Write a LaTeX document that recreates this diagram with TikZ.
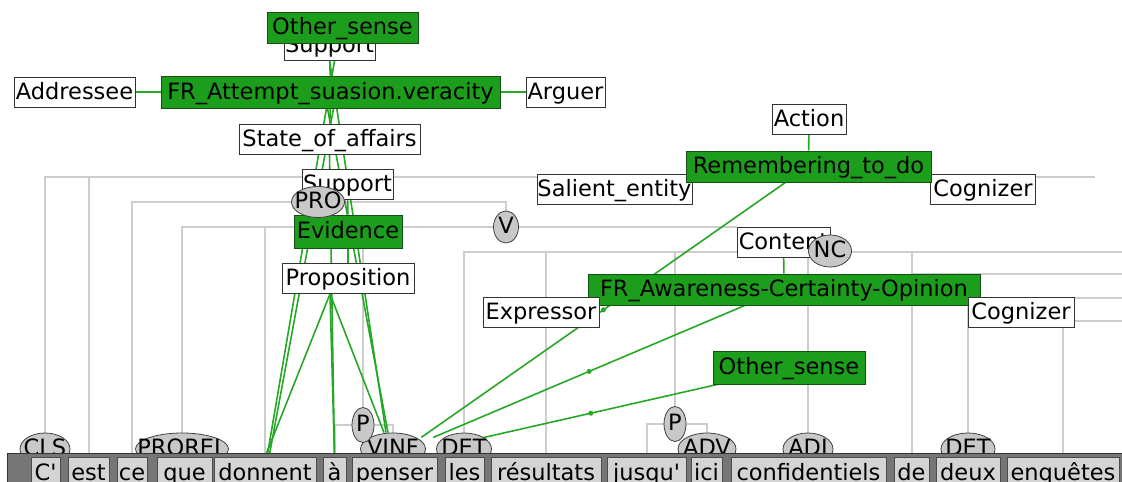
\documentclass[tikz,border=0pt]{standalone}
\usepackage{fontspec}
\setmainfont{DejaVu Sans}
\usetikzlibrary{shapes.geometric}
\definecolor{frgreen}{RGB}{28,158,28}
\definecolor{frline}{RGB}{20,80,20}
\definecolor{lkgreen}{RGB}{38,168,38}
\definecolor{trgray}{RGB}{205,205,205}
\definecolor{catgray}{RGB}{200,200,200}
\definecolor{wdgray}{RGB}{212,212,212}
\definecolor{bargray}{RGB}{118,118,118}
\newcommand\lbl{\fontsize{22.5}{27}\selectfont}
\pgfdeclarelayer{tree}
\pgfdeclarelayer{links}
\pgfsetlayers{tree,links,main}

\begin{document}
\begin{tikzpicture}[x=1pt,y=-1pt,
    fe/.style={draw=black!80,fill=white,line width=.8pt,font=\lbl,inner xsep=0pt,inner ysep=3.5pt,text height=18.5pt,text depth=4.5pt},
    fr/.style={fe,fill=frgreen,draw=frline},
    cat/.style={ellipse,draw=black!75,fill=catgray,line width=.8pt,font=\lbl,inner xsep=-20pt,inner ysep=-10pt,minimum height=32pt,text height=17pt,text depth=5pt},
    wd/.style={draw=black!70,fill=wdgray,line width=.8pt,font=\lbl,anchor=north,inner xsep=0pt,inner ysep=0pt,text height=23pt,text depth=6pt},
    tr/.style={trgray,line width=2pt},
    lk/.style={lkgreen,line width=1.6pt},
    dot/.style={circle,fill=lkgreen,inner sep=0pt,minimum size=5pt}]
\useasboundingbox (0,0) rectangle (1122,482);

% categories over the words
\node[cat,minimum width=50pt] (cls) at (45,449) {CLS};
\node[cat,minimum width=93pt] (prorel) at (182,449) {PROREL};
\node[cat,minimum width=65pt] (vinf) at (393,449) {VINF};
\node[cat,minimum width=55pt] (det1) at (464,449) {DET};
\node[cat,minimum width=58pt] (adv) at (707,449) {ADV};
\node[cat,minimum width=50pt] (adj) at (808,449) {ADJ};
\node[cat,minimum width=54pt] (det2) at (968,449) {DET};
\node[cat,minimum width=22pt,minimum height=35pt] (p1) at (363,425) {P};
\node[cat,minimum width=22pt,minimum height=35pt] (p2) at (675,424) {P};

% sentence bar
\fill[bargray] (7,453) rectangle (1130,490);
\draw[black!80,line width=1pt] (7,490) -- (7,453) -- (1130,453);

% words
\node[wd,minimum width=29pt] (c) at (45.5,457) {C\textquotesingle};
\node[wd,minimum width=41pt] (est) at (88.5,457) {est};
\node[wd,minimum width=30pt] (ce) at (132,457) {ce};
\node[wd,minimum width=55pt] (que) at (184.5,457) {que};
\node[wd,minimum width=102pt] (don) at (265,457) {donnent};
\node[wd,minimum width=23pt] (a) at (334.5,457) {à};
\node[wd,minimum width=85pt] (pen) at (394.5,457) {penser};
\node[wd,minimum width=39pt] (les) at (464.5,457) {les};
\node[wd,minimum width=110pt] (res) at (546,457) {résultats};
\node[wd,minimum width=79pt] (jus) at (646.5,457) {jusqu\textquotesingle};
\node[wd,minimum width=31pt] (ici) at (706.5,457) {ici};
\node[wd,minimum width=155pt] (conf) at (808.5,457) {confidentiels};
\node[wd,minimum width=35pt] (de) at (911.5,457) {de};
\node[wd,minimum width=64pt] (deux) at (968,457) {deux};
\node[wd,minimum width=112pt] (enq) at (1063,457) {enquêtes};

% frames and their elements
\node[fe,minimum width=91pt] (supT) at (329.5,45) {Support};
\node[fr,minimum width=151pt,minimum height=31pt] (osT) at (342.5,27.5) {Other\_sense};
\node[fe,minimum width=121pt] (add) at (74.5,92) {Addressee};
\node[fr,minimum width=339pt,minimum height=32pt] (fra) at (330.5,92) {FR\_Attempt\_suasion.veracity};
\node[fe,minimum width=79pt] (arg) at (565.5,92) {Arguer};
\node[fe,minimum width=181pt] (soa) at (329.5,139) {State\_of\_affairs};
\node[fe,minimum width=91pt] (sup2) at (347.5,184) {Support};
\node[fr,minimum width=108pt,minimum height=33pt] (ev) at (348,231.5) {Evidence};
\node[cat,minimum width=53pt,minimum height=31pt] (pro) at (318,202) {PRO};
\node[fe,minimum width=132pt] (prop) at (348,278.5) {Proposition};
\node[cat,minimum width=25pt] (v) at (506,227) {V};
\node[fe,minimum width=74pt] (act) at (809,119) {Action};
\node[fe,minimum width=155pt] (sal) at (614.5,189) {Salient\_entity};
\node[fe,minimum width=105pt] (cogA) at (983,189) {Cognizer};
\node[fr,minimum width=245pt,minimum height=31pt] (rem) at (808.5,166.5) {Remembering\_to\_do};
\node[fe,minimum width=93pt] (con) at (783.5,242) {Content};
\node[cat,minimum width=43pt] (nc) at (830,251) {NC};
\node[fr,minimum width=392pt,minimum height=31pt] (faco) at (784,289.5) {FR\_Awareness-Certainty-Opinion};
\node[fe,minimum width=116pt] (expr) at (541,312.5) {Expressor};
\node[fe,minimum width=106pt] (cogB) at (1021,312.5) {Cognizer};
\node[fr,minimum width=152pt,minimum height=33pt] (osR) at (789,367.5) {Other\_sense};

% constituent tree
\begin{pgfonlayer}{tree}
\coordinate (b1) at (0,177);
\coordinate (b2) at (0,202);
\coordinate (b3) at (0,227);
\coordinate (b4) at (0,252);
\coordinate (b5) at (0,274);
\coordinate (e1) at (1095,177);
\coordinate (e4) at (1130,252);
\coordinate (e5) at (1130,274);
\coordinate (e6) at (1130,298);
\coordinate (e7) at (1130,321);
\draw[tr] (cls.north) |- (e1);
\draw[tr] (est.north) -- (est.north |- b1);
\draw[tr] (ce.north) -- (ce.north |- b2) -| (v.north);
\draw[tr] (prorel.north) |- (con.north west);
\draw[tr] (don.north) -- (don.north |- b3);
\draw[tr] (p1.north) -- (p1.north |- b3);
\draw[tr] (a.north) |- (p1) -| (vinf.north);
\draw[tr] (det1.north) |- (e4);
\draw[tr] (res.north) -- (res.north |- b4);
\draw[tr] (p2.north) -- (p2.north |- b4);
\draw[tr] (jus.north) |- (p2) -| (adv.north);
\draw[tr] (adj.north) -- (adj.north |- b4);
\draw[tr] (de.north) -- (de.north |- b4);
\draw[tr] (de.north |- b5) -- (e5);
\draw[tr] (det2.north) |- (e6);
\draw[tr] (enq.north) |- (e7);
\end{pgfonlayer}

% frame links
\begin{pgfonlayer}{links}
\draw[lk] (supT) -- (fra);
\draw[lk] (add) -- (fra) -- (arg);
\draw[lk] (fra) -- (soa);
\draw[lk] (sup2) -- (ev) -- (prop);
\draw[lk] ([xshift=-5pt]osT.south) -- ([xshift=2pt]don.north);
\draw[lk] ([xshift=3pt]fra.south) -- ([xshift=4pt]don.north);
\draw[lk] (supT.south) -- ([xshift=-7pt]vinf.north);
\draw[lk] ([xshift=-3pt]fra.south) -- ([xshift=-5pt]vinf.north);
\draw[lk] (soa.south) -- (a.north);
\draw[lk] ([xshift=-18pt]prop.south) -- (don.north);
\draw[lk] ([xshift=-18pt]prop.south) -- (a.north);
\draw[lk] ([xshift=-18pt]prop.south) -- ([xshift=-9pt]vinf.north);
\draw[lk] (act) -- (rem);
\draw[lk] (con) -- (faco);
\draw[lk] ([xshift=-23pt]rem.south) -- node[dot]{} ([xshift=5pt]vinf.north east);
\draw[lk] ([xshift=-39pt]faco.south) -- node[dot]{} ([xshift=17pt]vinf.north east);
\draw[lk] ([xshift=5pt]osR.south west) -- node[dot]{} ([yshift=7pt]det1.center);
\end{pgfonlayer}
\end{tikzpicture}
\end{document}
